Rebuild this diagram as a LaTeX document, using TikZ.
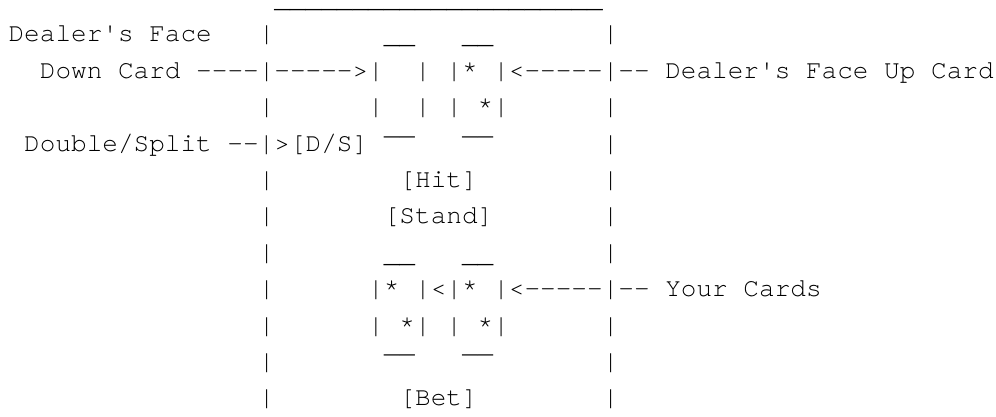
\documentclass[tikz,border=0pt]{standalone}
\usepackage{fontspec}
\setmonofont{texgyrecursor-regular.otf}
\newfontfamily\libmono{Liberation Mono}
\newcommand\ovl{\raisebox{-5.5pt}{\libmono ‾‾}}
\newcommand\uline[1]{\raisebox{-2pt}{#1}}
\begin{document}
\begin{tikzpicture}[x=1pt,y=1pt,
  asciirow/.style={anchor=base west, inner sep=0pt, outer sep=0pt,
    font=\ttfamily\fontsize{26.06pt}{36.4pt}\selectfont}]
\useasboundingbox (0,0) rectangle (996,-416);
\node[asciirow] (r0)  at (8.6,-5.4)   {~~~~~~~~~~~~~~~~~\uline{\_\_\_\_\_\_\_\_\_\_\_\_\_\_\_\_\_\_\_\_\_}};
\node[asciirow] (r1)  at (8.6,-41.8)  {Dealer's~Face~~~|~~~~~~~\uline{\_\_}~~~\uline{\_\_}~~~~~~~|};
\node[asciirow] (r2)  at (8.6,-78.2)  {~~Down~Card~----|----->|~~|~|*~|<-----|--~Dealer's~Face~Up~Card};
\node[asciirow] (r3)  at (8.6,-114.6) {~~~~~~~~~~~~~~~~|~~~~~~|~~|~|~*|~~~~~~|};
\node[asciirow] (r4)  at (8.6,-151.0) {~Double/Split~--|>[D/S]~\ovl~~~\ovl~~~~~~~|};
\node[asciirow] (r5)  at (8.6,-187.4) {~~~~~~~~~~~~~~~~|~~~~~~~~[Hit]~~~~~~~~|};
\node[asciirow] (r6)  at (8.6,-223.8) {~~~~~~~~~~~~~~~~|~~~~~~~[Stand]~~~~~~~|};
\node[asciirow] (r7)  at (8.6,-260.2) {~~~~~~~~~~~~~~~~|~~~~~~~\uline{\_\_}~~~\uline{\_\_}~~~~~~~|};
\node[asciirow] (r8)  at (8.6,-296.6) {~~~~~~~~~~~~~~~~|~~~~~~|*~|<|*~|<-----|--~Your~Cards};
\node[asciirow] (r9)  at (8.6,-333.0) {~~~~~~~~~~~~~~~~|~~~~~~|~*|~|~*|~~~~~~|};
\node[asciirow] (r10) at (8.6,-369.4) {~~~~~~~~~~~~~~~~|~~~~~~~\ovl~~~\ovl~~~~~~~|};
\node[asciirow] (r11) at (8.6,-405.8) {~~~~~~~~~~~~~~~~|~~~~~~~~[Bet]~~~~~~~~|};
\end{tikzpicture}
\end{document}
